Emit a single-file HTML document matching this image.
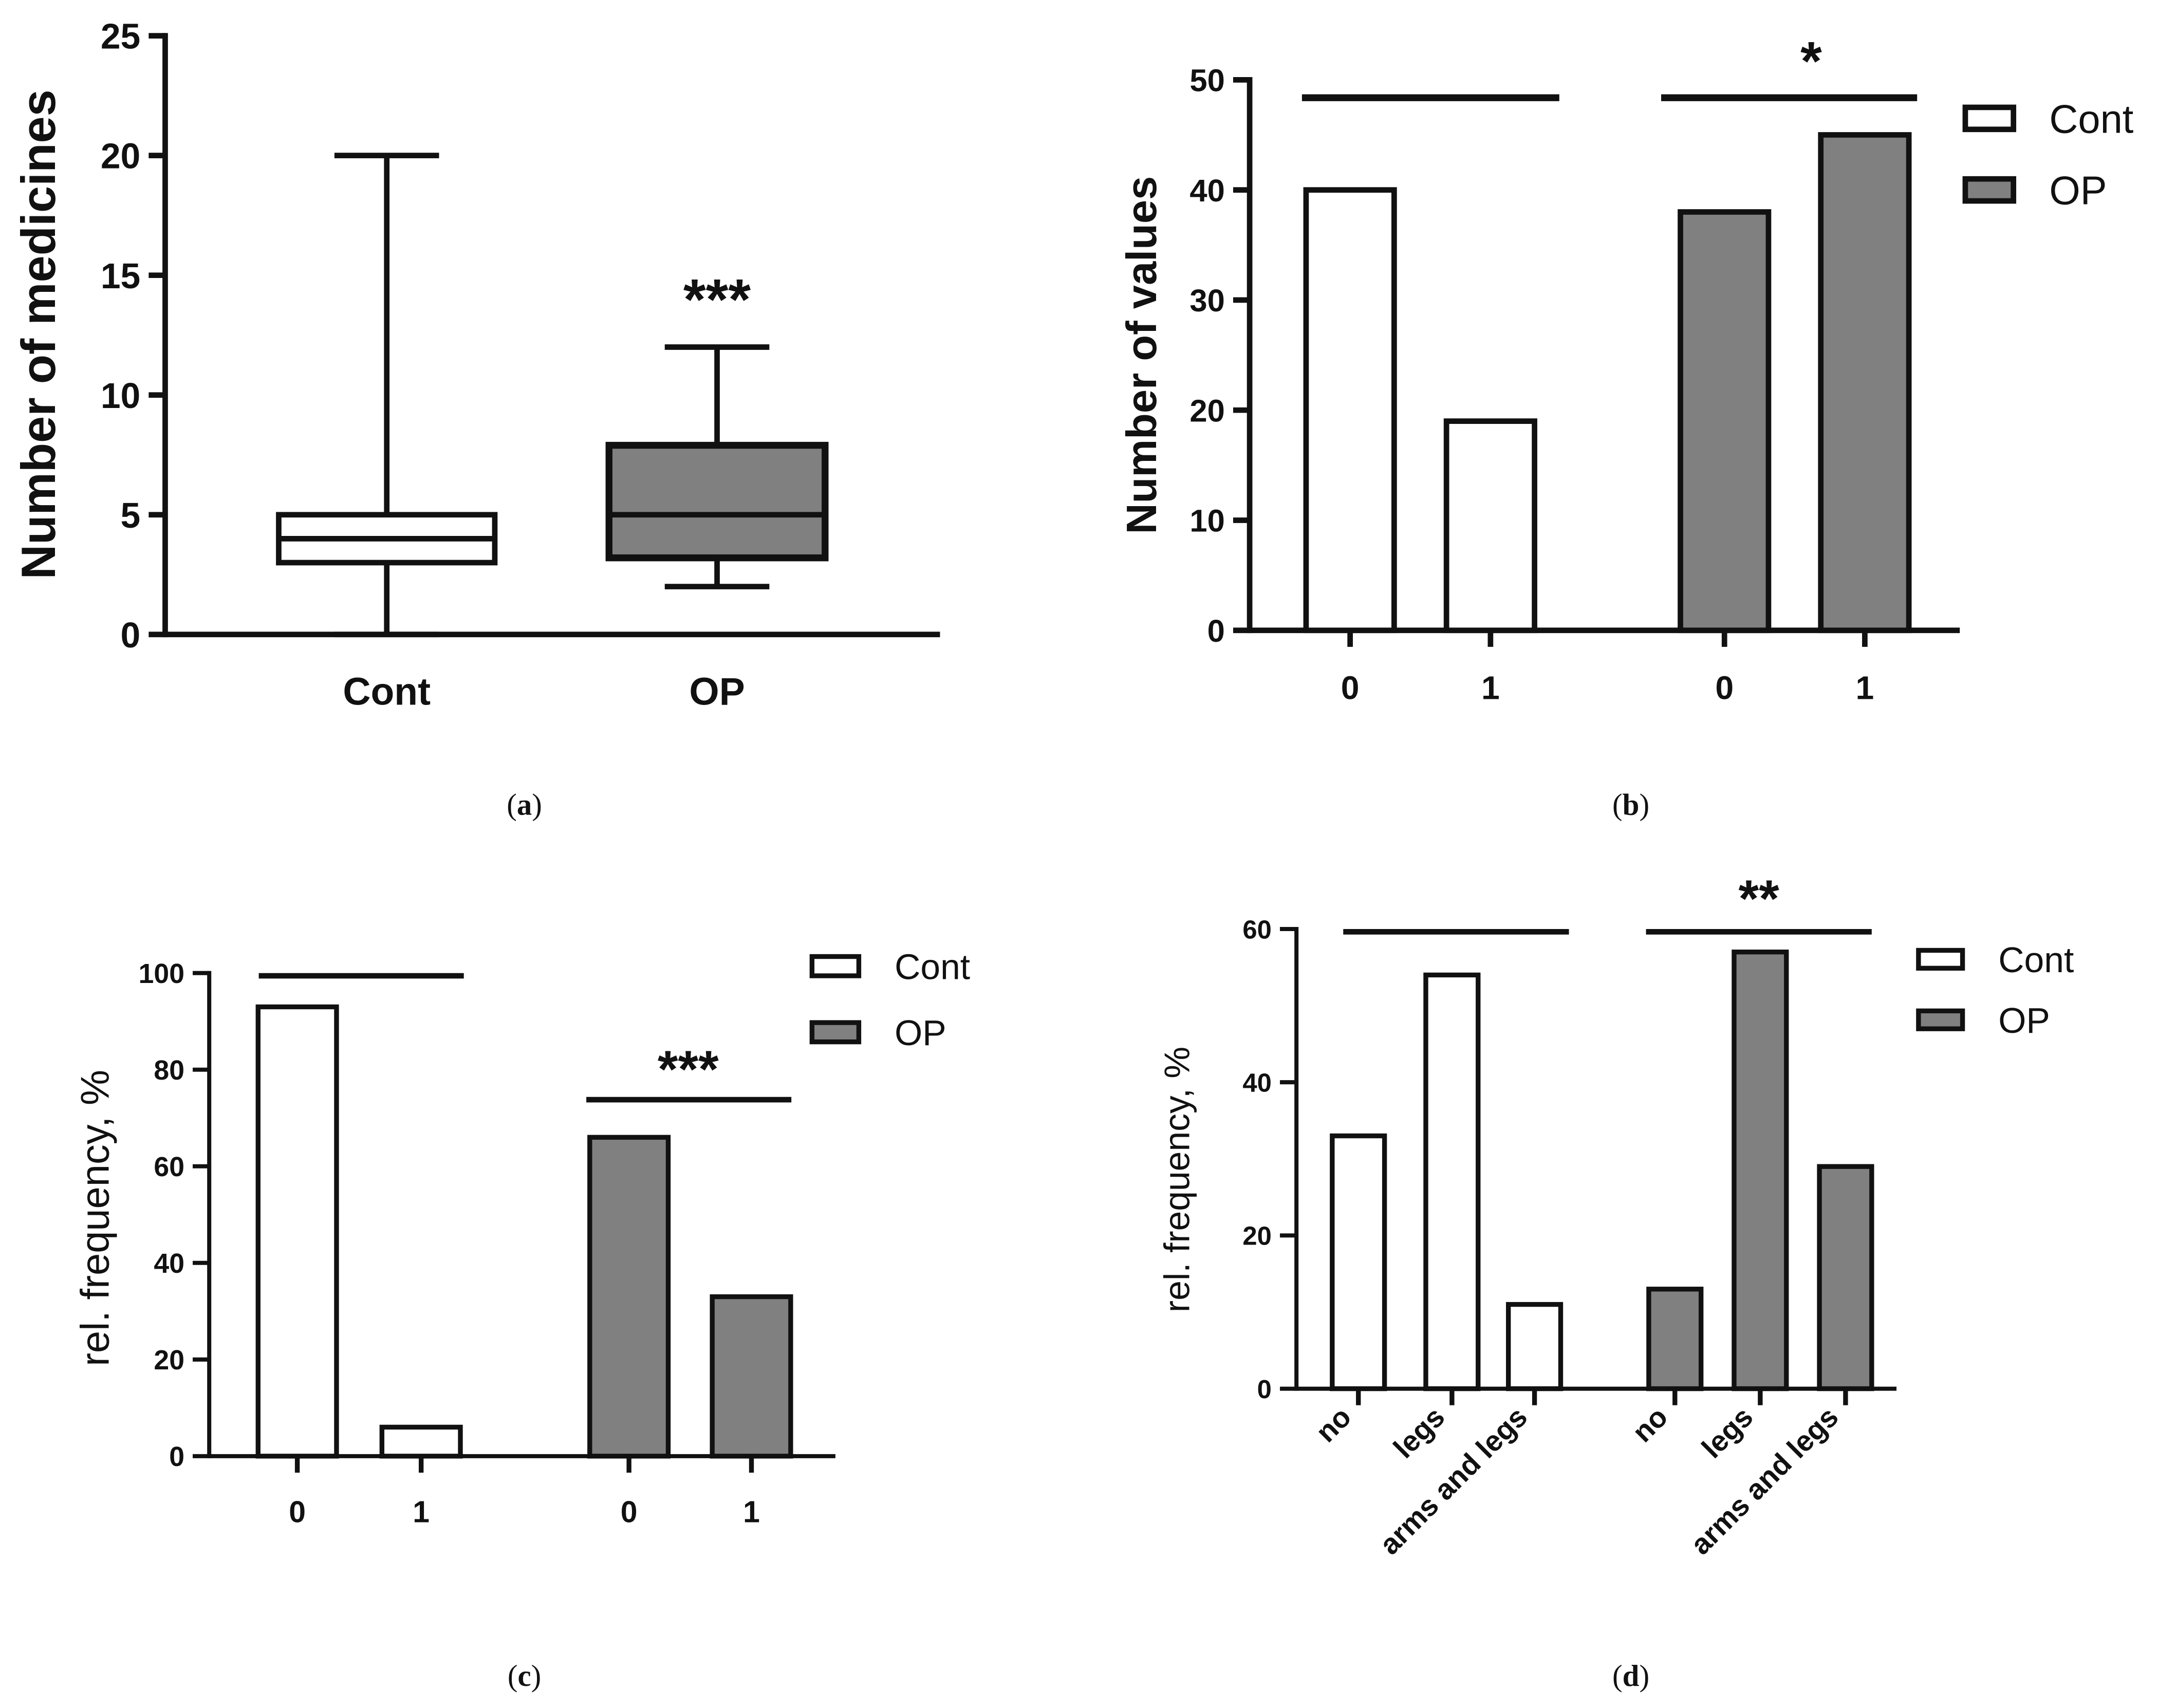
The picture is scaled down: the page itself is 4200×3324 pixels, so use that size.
<!DOCTYPE html>
<html><head><meta charset="utf-8"><style>
html,body{margin:0;padding:0;background:#fff}
svg{display:block}
text{font-family:"Liberation Sans",Arial,sans-serif;fill:#111}
.cap{font-family:"Liberation Serif",serif;font-size:22px}
</style></head><body>
<svg id="fig" width="4200" height="3324" viewBox="0 0 1568 1241" xmlns="http://www.w3.org/2000/svg">
<text class="cap" x="381" y="592" text-anchor="middle">(<tspan font-weight="bold">a</tspan>)</text>
<text class="cap" x="1185" y="592" text-anchor="middle">(<tspan font-weight="bold">b</tspan>)</text>
<text class="cap" x="381" y="1225" text-anchor="middle">(<tspan font-weight="bold">c</tspan>)</text>
<text class="cap" x="1185" y="1225" text-anchor="middle">(<tspan font-weight="bold">d</tspan>)</text>
</svg>
<script>
// Panel A data (box plot)
const aGroups = ["Cont","OP"];
const aMin = [0,2];
const aQ1 = [3,3.2];
const aMed = [4,5];
const aQ3 = [5,7.9];
const aMax = [20,12];
const aTicks = [0,5,10,15,20,25];
// Panel B
const bCats = ["0","1","0","1"];
const bVals = [40,19,38,45];
const bTicks = [0,10,20,30,40,50];
// Panel C
const cCats = ["0","1","0","1"];
const cVals = [93,6,66,33];
const cTicks = [0,20,40,60,80,100];
// Panel D
const dCats = ["no","legs","arms and legs","no","legs","arms and legs"];
const dVals = [33,54,11,13,57,29];
const dTicks = [0,20,40,60];

const svg = document.getElementById('fig');
const NS = "http://www.w3.org/2000/svg";
function mk(tag, attrs, name, txt){
  const e = document.createElementNS(NS, tag);
  for (const k in attrs) e.setAttribute(k, attrs[k]);
  
  
  if (txt !== undefined) e.textContent = txt;
  svg.appendChild(e);
  return e;
}
function scale(d0,d1,r0,r1){return v => r0 + (v-d0)/(d1-d0)*(r1-r0);}
function axes(x0,x1,y0,yTop,ticks,yMax,sw,fs,name){
  const y = scale(0,yMax,y0,yTop);
  mk('line',{x1:x0,y1:y0,x2:x1,y2:y0,stroke:'#111','stroke-width':sw},name+'-x-axis');
  mk('line',{x1:x0,y1:y0+sw/2,x2:x0,y2:yTop-sw/2,stroke:'#111','stroke-width':sw},name+'-y-axis');
  ticks.forEach(t=>{
    mk('line',{x1:x0-12,y1:y(t),x2:x0,y2:y(t),stroke:'#111','stroke-width':sw},name+'-y-tick');
    mk('text',{x:x0-18,y:y(t)+fs*0.36,'text-anchor':'end','font-size':fs,'font-weight':'bold'},name+'-y-tick-label',String(t));
  });
  return y;
}
function ytitle(x,yc,txt,fs,bold,name){
  mk('text',{x:0,y:0,transform:`translate(${x},${yc}) rotate(-90)`,'text-anchor':'middle','font-size':fs,'font-weight':bold?'bold':'normal'},name,txt);
}
function bars(y,y0,xs,w,vals,cats,sw,fs,name,rot){
  vals.forEach((v,i)=>{
    const cx = xs[i];
    mk('rect',{x:cx-w/2,y:y(v),width:w,height:y0-y(v),fill:i<vals.length/2?'#fff':'#808080',stroke:'#111','stroke-width':sw},name+'-bar');
    mk('line',{x1:cx,y1:y0,x2:cx,y2:y0+12,stroke:'#111','stroke-width':sw},name+'-x-tick');
    if(rot){
      mk('text',{x:0,y:0,transform:`translate(${cx-4},${y0+22}) rotate(-45)`,'text-anchor':'end','font-size':fs,'font-weight':'bold'},name+'-x-tick-label',cats[i]);
    } else {
      mk('text',{x:cx,y:y0+fs+26,'text-anchor':'middle','font-size':fs,'font-weight':'bold'},name+'-x-tick-label',cats[i]);
    }
  });
}
function legend(x,y1,y2,w,h,fs,sw,name){
  mk('rect',{x:x,y:y1-h/2,width:w,height:h,fill:'#fff',stroke:'#111','stroke-width':sw},name+'-legend-cont-swatch');
  mk('text',{x:x+w+26,y:y1+fs*0.36,'font-size':fs},name+'-legend-cont','Cont');
  mk('rect',{x:x,y:y2-h/2,width:w,height:h,fill:'#808080',stroke:'#111','stroke-width':sw},name+'-legend-op-swatch');
  mk('text',{x:x+w+26,y:y2+fs*0.36,'font-size':fs},name+'-legend-op','OP');
}
function sig(x1,x2,y,sw,name){mk('line',{x1:x1,y1:y,x2:x2,y2:y,stroke:'#111','stroke-width':sw},name);}

// Panel A
{
  const y0=461, y = axes(120,683,y0,26,aTicks,25,4,26,'panel-a');
  ytitle(40,243,'Number of medicines',35,true,'panel-a-y-title');
  const xs=[281,521], w=157;
  aGroups.forEach((g,i)=>{
    const cx=xs[i];
    mk('line',{x1:cx,y1:y(aMin[i]),x2:cx,y2:y(aMax[i]),stroke:'#111','stroke-width':4},'panel-a-whisker');
    mk('line',{x1:cx-38,y1:y(aMax[i]),x2:cx+38,y2:y(aMax[i]),stroke:'#111','stroke-width':4},'panel-a-whisker-cap-top');
    mk('line',{x1:cx-38,y1:y(aMin[i]),x2:cx+38,y2:y(aMin[i]),stroke:'#111','stroke-width':4},'panel-a-whisker-cap-bottom');
    mk('rect',{x:cx-w/2,y:y(aQ3[i]),width:w,height:y(aQ1[i])-y(aQ3[i]),fill:i?'#808080':'#fff',stroke:'#111','stroke-width':i?5:4},'panel-a-box-'+g.toLowerCase());
    mk('line',{x1:cx-w/2,y1:y(aMed[i]),x2:cx+w/2,y2:y(aMed[i]),stroke:'#111','stroke-width':4},'panel-a-median');
    mk('text',{x:cx,y:y0+51,'text-anchor':'middle','font-size':28,'font-weight':'bold'},'panel-a-x-label',g);
  });
  mk('text',{x:521,y:232,'text-anchor':'middle','font-size':42,'font-weight':'bold'},'panel-a-significance','***');
}
// Panel B
{
  const y0=458, y=axes(908,1424,y0,58,bTicks,50,4,23,'panel-b');
  ytitle(840,258,'Number of values',31,true,'panel-b-y-title');
  bars(y,y0,[981,1083,1253,1355],64,bVals,bCats,4,24,'panel-b',false);
  sig(946,1133,71,5,'panel-b-sig-line-cont');
  sig(1207,1393,71,5,'panel-b-sig-line-op');
  mk('text',{x:1316,y:58,'text-anchor':'middle','font-size':40,'font-weight':'bold'},'panel-b-significance','*');
  legend(1428,86,138,35,16,29,4,'panel-b');
}
// Panel C
{
  const y0=1058, y=axes(152,607,y0,707,cTicks,100,3,20,'panel-c');
  ytitle(79,885,'rel. frequency, %',29,false,'panel-c-y-title');
  bars(y,y0,[216,306,457,546],57,cVals,cCats,3.5,22,'panel-c',false);
  sig(188,337,709,4,'panel-c-sig-line-cont');
  sig(426,575,799,4,'panel-c-sig-line-op');
  mk('text',{x:500,y:790,'text-anchor':'middle','font-size':38,'font-weight':'bold'},'panel-c-significance','***');
  legend(590,702,750,34,14,26,3.5,'panel-c');
}
// Panel D
{
  const y0=1009, y=axes(942,1378,y0,675,dTicks,60,3,19,'panel-d');
  ytitle(864,857,'rel. frequency, %',26,false,'panel-d-y-title');
  bars(y,y0,[987,1055,1115,1217,1279,1341],38,dVals,dCats,3.5,21,'panel-d',true);
  sig(976,1140,677,4,'panel-d-sig-line-cont');
  sig(1196,1360,677,4,'panel-d-sig-line-op');
  mk('text',{x:1278,y:666,'text-anchor':'middle','font-size':38,'font-weight':'bold'},'panel-d-significance','**');
  legend(1394,697,741,32,13,26,3.5,'panel-d');
}
</script>
</body></html>
